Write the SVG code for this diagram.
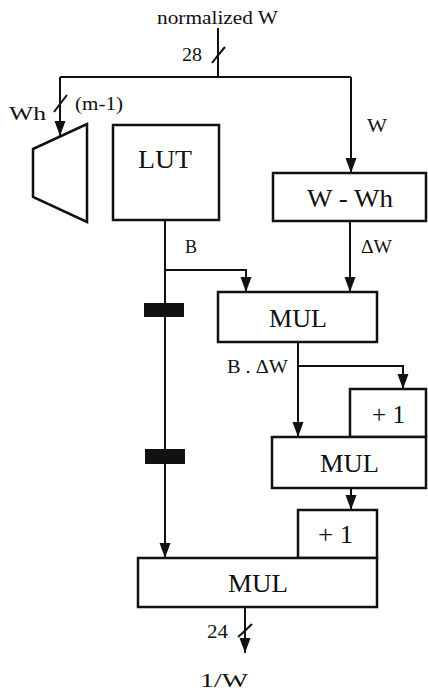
<svg xmlns="http://www.w3.org/2000/svg" width="428" height="691" viewBox="0 0 428 691">
<style>
.ln{fill:none;stroke:#111;stroke-width:2}
.bx{fill:#fff;stroke:#111;stroke-width:2.5}
.t{font-family:"Liberation Serif","Times New Roman",serif;fill:#111}
.big{font-size:25px;text-anchor:start}
.sm{font-size:18px}
.reg{fill:#111}
</style>
<defs>
<marker id="ah" markerUnits="userSpaceOnUse" markerWidth="16" markerHeight="12" refX="15" refY="6" orient="auto">
<path d="M0,0.5 L15,6 L0,11.5 Z" fill="#111"/>
</marker>
</defs>
<rect width="428" height="691" fill="#fff"/>
<g id="connectors">
<path class="ln" d="M218,28 V77"/>
<path class="ln" d="M60,77 H351"/>
<path class="ln" d="M60,77 V136" marker-end="url(#ah)"/>
<path class="ln" d="M351,77 V173" marker-end="url(#ah)"/>
<path class="ln" d="M350,221 V292" marker-end="url(#ah)"/>
<path class="ln" d="M165,220 V558" marker-end="url(#ah)"/>
<path class="ln" d="M165,270 H246 V292" marker-end="url(#ah)"/>
<path class="ln" d="M298,342 V437" marker-end="url(#ah)"/>
<path class="ln" d="M298,366 H403 V389" marker-end="url(#ah)"/>
<path class="ln" d="M351,488 V510" marker-end="url(#ah)"/>
<path class="ln" d="M245,607 V653" marker-end="url(#ah)"/>
<path class="ln" d="M212,63 Q218,55 225,47"/>
<path class="ln" d="M54,112 Q60,104 67,95"/>
<path class="ln" d="M238,637 Q245,631 252,624"/>
<rect class="reg" x="144" y="303" width="40" height="14"/>
<rect class="reg" x="145" y="449" width="40" height="15"/>
</g>
<g id="labels">
<text class="t sm" x="157" y="24" textLength="121" lengthAdjust="spacingAndGlyphs">normalized W</text>
<text class="t sm" x="182" y="61" font-size="20" textLength="20" lengthAdjust="spacingAndGlyphs">28</text>
<text class="t sm" x="9" y="120" textLength="37" lengthAdjust="spacingAndGlyphs">Wh</text>
<text class="t sm" x="75" y="110" textLength="48" lengthAdjust="spacingAndGlyphs">(m-1)</text>
<text class="t sm" x="367" y="132" textLength="20" lengthAdjust="spacingAndGlyphs">W</text>
<text class="t sm" x="185" y="253" textLength="12" lengthAdjust="spacingAndGlyphs">B</text>
<text class="t sm" x="361" y="253" textLength="31" lengthAdjust="spacingAndGlyphs">ΔW</text>
<text class="t sm" x="227" y="373" textLength="61" lengthAdjust="spacingAndGlyphs">B . ΔW</text>
<text class="t sm" x="207" y="638" textLength="21" lengthAdjust="spacingAndGlyphs">24</text>
<text class="t sm" x="200" y="687" font-size="22" textLength="48" lengthAdjust="spacingAndGlyphs">1/W</text>
</g>
<g id="shifter">
<path class="bx" d="M33,149 L87,124 L87,222 L33,197 Z"/>
</g>
<g id="lut">
<rect class="bx" x="113" y="125" width="106" height="95"/>
<text class="t big" x="138" y="168" textLength="54" lengthAdjust="spacingAndGlyphs">LUT</text>
</g>
<g id="sub">
<rect class="bx" x="273" y="173" width="153" height="48"/>
<text class="t big" x="307" y="207" textLength="86" lengthAdjust="spacingAndGlyphs">W - Wh</text>
</g>
<g id="mul1">
<rect class="bx" x="218" y="292" width="159" height="50"/>
<text class="t big" x="269" y="327" textLength="58" lengthAdjust="spacingAndGlyphs">MUL</text>
</g>
<g id="inc1">
<rect class="bx" x="350" y="389" width="76" height="48"/>
<text class="t big" x="372" y="423" font-size="22" textLength="33" lengthAdjust="spacingAndGlyphs">+ 1</text>
</g>
<g id="mul2">
<rect class="bx" x="272" y="437" width="154" height="51"/>
<text class="t big" x="320" y="472" textLength="59" lengthAdjust="spacingAndGlyphs">MUL</text>
</g>
<g id="inc2">
<rect class="bx" x="298" y="510" width="79" height="48"/>
<text class="t big" x="318" y="543" font-size="22" textLength="35" lengthAdjust="spacingAndGlyphs">+ 1</text>
</g>
<g id="mul3">
<rect class="bx" x="138" y="558" width="239" height="49"/>
<text class="t big" x="228" y="592" textLength="60" lengthAdjust="spacingAndGlyphs">MUL</text>
</g>
</svg>
